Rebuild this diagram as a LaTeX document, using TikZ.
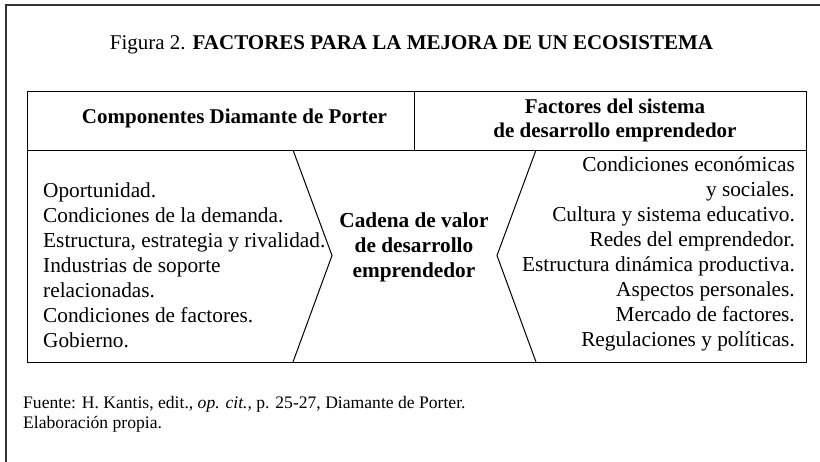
\documentclass[tikz,border=0pt]{standalone}
\usepackage{fontspec}
\setmainfont{Liberation Serif}
\begin{document}
\begin{tikzpicture}[x=1pt,y=-1pt,
  frameline/.style={draw=black!80, line width=1.3pt},
  rule/.style={draw=black, line width=1pt, line join=miter},
  titletext/.style={font=\fontsize{21}{25}\selectfont, inner sep=0pt, anchor=base},
  headtext/.style={font=\bfseries\fontsize{21}{24.5}\selectfont, inner sep=0pt, align=center},
  bodytext/.style={font=\fontsize{21.3}{25}\selectfont, inner sep=0pt},
  centertext/.style={font=\bfseries\fontsize{21.3}{25}\selectfont, inner sep=0pt, align=center, anchor=north},
  notetext/.style={font=\fontsize{17.6}{20}\selectfont, inner sep=0pt, align=left, anchor=north west}
]
\useasboundingbox (0,0) rectangle (820,461);
% outer frame (cropped on right and bottom)
\draw[frameline] (6,462) -- (6,5) -- (821,5);
% table geometry
\coordinate (tl) at (27,91);
\coordinate (br) at (806,362);
\coordinate (hl) at (27,150);
\coordinate (hr) at (806,150);
\coordinate (dt) at (414,91);
\coordinate (db) at (414,150);
\coordinate (lct) at (293,150);
\coordinate (lcp) at (332,255.5);
\coordinate (lcb) at (293,362);
\coordinate (rct) at (536,150);
\coordinate (rcp) at (497,255.5);
\coordinate (rcb) at (536,362);
\draw[rule] (tl) rectangle (br);
\draw[rule] (hl) -- (hr);
\draw[rule] (dt) -- (db);
\draw[rule] (lct) -- (lcp) -- (lcb);
\draw[rule] (rct) -- (rcp) -- (rcb);
% title
\node[titletext] (title) at (411.5,49) {Figura 2. \textbf{FACTORES PARA LA MEJORA DE UN ECOSISTEMA}};
% headers
\node[headtext, anchor=base] (hleft) at (234.5,123) {Componentes Diamante de Porter};
\node[headtext, anchor=north] (hright) at (615,95.8) {\strut Factores del sistema\\de desarrollo emprendedor};
% left list
\node[bodytext, align=left, anchor=north west] (leftlist) at (43,179.5) {\strut Oportunidad.\\Condiciones de la demanda.\\Estructura, estrategia y rivalidad.\\Industrias de soporte\\relacionadas.\\Condiciones de factores.\\Gobierno.};
% centre
\node[centertext] (centre) at (414,209.5) {\strut Cadena de valor\\de desarrollo\\emprendedor};
% right list
\node[bodytext, align=right, anchor=north east] (rightlist) at (795,153.8) {\strut Condiciones económicas\\y sociales.\\Cultura y sistema educativo.\\Redes del emprendedor.\\Estructura dinámica productiva.\\Aspectos personales.\\Mercado de factores.\\Regulaciones y políticas.};
% source note
\node[notetext] (note) at (23,394) {\strut Fuente: H. Kantis, edit., \textit{op. cit.,} p. 25-27, Diamante de Porter.\\Elaboración propia.};
\end{tikzpicture}
\end{document}
